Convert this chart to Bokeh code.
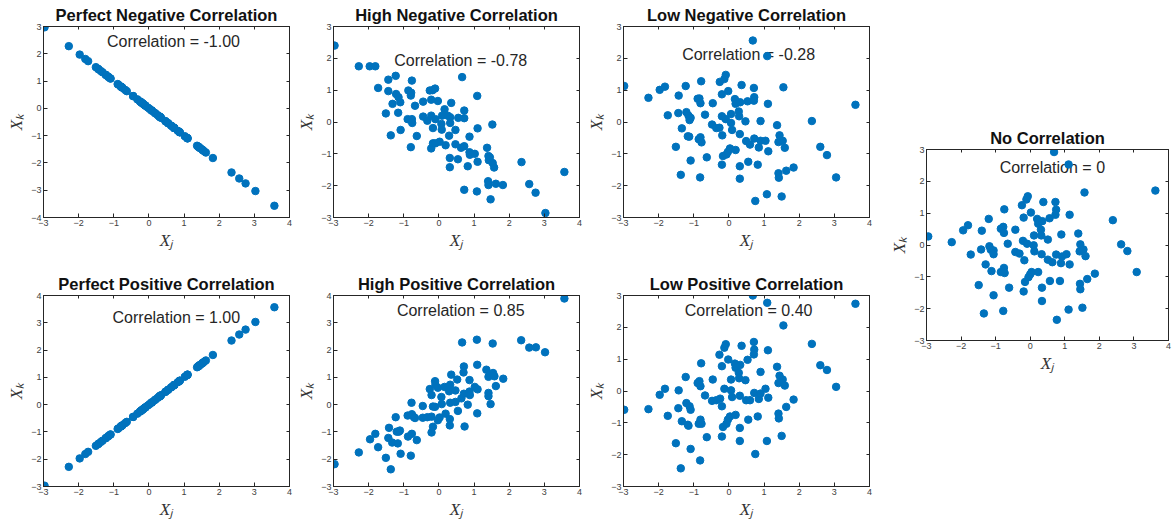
from bokeh.plotting import figure
from bokeh.layouts import row, column, Spacer
from bokeh.models import Label, LinearAxis, Range1d, FixedTicker
from bokeh.embed import file_html
from bokeh.resources import INLINE

# ---------------- data ----------------
# shared X_j values (also used for the perfect-correlation panels)
xj = [-2.97, -2.28, -1.97, -1.81, -1.73, -1.44, -1.44, -1.23, -1.51, -1.37,
      -1.32, -1.22, -1.15, -1.16, -1.10, -1.09, -0.87, -0.77, -0.80, -0.79,
      -0.68, -0.89, -0.77, -0.76, -0.80, -0.63, -0.45, -0.45, -0.33, -0.26,
      -0.18, -0.11, -0.22, -0.22, -0.17, -0.22, -0.17, -0.10, -0.03, -0.10,
      0.02, 0.09, 0.07, 0.08, 0.16, 0.19, 0.25, 0.29, 0.32, 0.32,
      0.35, 0.31, 0.31, 0.47, 0.47, 0.54, 0.55, 0.63, 0.66, 0.72,
      0.72, 0.72, 0.72, 0.82, 0.87, 0.87, 0.88, 1.02, 1.08, 1.09,
      1.10, 1.10, 1.37, 1.41, 1.42, 1.45, 1.40, 1.41, 1.47, 1.52,
      1.53, 1.57, 1.62, 1.82, 2.35, 2.57, 2.75, 3.03, 3.57]

perfect_neg_y = [2.97, 2.28, 1.97, 1.81, 1.73, 1.44, 1.44, 1.23, 1.51, 1.37,
                 1.32, 1.22, 1.15, 1.16, 1.10, 1.09, 0.87, 0.77, 0.80, 0.79,
                 0.68, 0.89, 0.77, 0.76, 0.80, 0.63, 0.45, 0.45, 0.33, 0.26,
                 0.18, 0.11, 0.22, 0.22, 0.17, 0.22, 0.17, 0.10, 0.03, 0.10,
                 -0.02, -0.09, -0.07, -0.08, -0.16, -0.19, -0.25, -0.29, -0.32, -0.32,
                 -0.35, -0.31, -0.31, -0.47, -0.47, -0.54, -0.55, -0.63, -0.66, -0.72,
                 -0.72, -0.72, -0.72, -0.82, -0.87, -0.87, -0.88, -1.02, -1.08, -1.09,
                 -1.10, -1.10, -1.37, -1.41, -1.42, -1.45, -1.40, -1.41, -1.47, -1.52,
                 -1.53, -1.57, -1.62, -1.82, -2.35, -2.57, -2.75, -3.03, -3.57]

perfect_pos_y = [-2.97, -2.28, -1.97, -1.81, -1.73, -1.44, -1.44, -1.23, -1.51, -1.37,
                 -1.32, -1.22, -1.15, -1.16, -1.10, -1.09, -0.87, -0.77, -0.80, -0.79,
                 -0.68, -0.89, -0.77, -0.76, -0.80, -0.63, -0.45, -0.45, -0.33, -0.26,
                 -0.18, -0.11, -0.22, -0.22, -0.17, -0.22, -0.17, -0.10, -0.03, -0.10,
                 0.02, 0.09, 0.07, 0.08, 0.16, 0.19, 0.25, 0.29, 0.32, 0.32,
                 0.35, 0.31, 0.31, 0.47, 0.47, 0.54, 0.55, 0.63, 0.66, 0.72,
                 0.72, 0.72, 0.72, 0.82, 0.87, 0.87, 0.88, 1.02, 1.08, 1.09,
                 1.10, 1.10, 1.37, 1.41, 1.42, 1.45, 1.40, 1.41, 1.47, 1.52,
                 1.53, 1.57, 1.62, 1.82, 2.35, 2.57, 2.75, 3.03, 3.57]

high_neg_y = [2.40, 1.75, 1.75, 1.75, 1.07, 1.33, 0.97, 1.45, 0.27, -0.42,
              0.57, 0.88, 0.78, 0.29, 0.62, -0.25, 0.99, 1.30, 0.83, 0.92,
              0.51, 0.09, 0.09, -0.03, -0.79, -0.44, 0.64, 0.17, 0.04, 0.99,
              1.00, 1.05, 0.70, 0.20, -0.19, -0.83, -0.67, 0.09, 0.66, -0.67,
              -0.62, 0.20, -0.06, -0.24, 0.40, -0.73, 0.20, -0.43, -0.03, 0.15,
              0.60, -1.13, -1.42, -0.25, -0.70, -1.17, 0.13, -0.81, 1.41, 0.36,
              0.12, -0.76, -2.13, -1.39, -0.46, -0.95, -1.03, -1.00, -2.18, 0.82,
              -0.20, -1.25, -0.81, -1.07, -1.20, -1.11, -1.86, -1.98, -2.43, -0.08,
              -1.29, -1.43, -1.94, -1.98, -1.26, -1.95, -2.22, -2.86, -1.57]

low_neg_x = [-2.98, -2.29, -1.97, -1.82, -1.74, -1.51, -1.43, -1.44, -1.34, -1.37,
             -1.23, -1.21, -1.15, -1.12, -1.09, -1.17, -1.13, -1.09, -0.89, -0.84,
             -0.79, -0.81, -0.86, -0.81, -0.78, -0.82, -0.68, -0.63, -0.46, -0.48,
             -0.36, -0.27, -0.26, -0.20, -0.20, -0.19, -0.20, -0.17, -0.13, -0.09,
             -0.09, -0.07, -0.02, -0.03, 0.03, 0.06, 0.06, 0.09, 0.17, 0.19,
             0.19, 0.28, 0.29, 0.31, 0.31, 0.31, 0.36, 0.32, 0.47, 0.49,
             0.53, 0.55, 0.60, 0.68, 0.71, 0.72, 0.71, 0.72, 0.75, 0.82,
             0.85, 0.90, 0.90, 1.04, 1.09, 1.11, 1.12, 1.08, 1.37, 1.44,
             1.41, 1.41, 1.42, 1.50, 1.53, 1.55, 1.59, 1.63, 1.84, 2.36,
             2.60, 2.79, 3.05, 3.60]
low_neg_y = [1.13, 0.76, 1.01, 1.11, 0.21, -0.78, 0.83, 0.28, -0.20, -1.66,
             1.13, 0.31, 0.20, 0.06, 0.13, -0.45, -0.46, -1.21, 0.73, 0.74,
             1.28, 0.59, -0.54, -0.48, -0.64, -1.74, 0.23, -1.11, 0.59, -0.08,
             -0.19, -0.18, 1.26, 0.87, 0.18, -0.42, -1.34, -1.07, 1.35, 1.48,
             0.09, -1.02, 0.97, -0.94, -0.83, 0.25, -0.03, -0.25, 0.72, 0.57,
             -0.88, 0.33, 0.18, -0.38, -1.39, -1.78, 1.16, 0.62, 0.02, -0.60,
             0.65, -1.25, -0.71, 2.56, 1.07, 0.78, 0.67, -0.52, -2.48, -1.34,
             -0.80, 0.03, -0.59, -0.59, 2.07, 0.57, -0.92, -2.27, -0.10, -0.42,
             -0.63, -1.61, -1.75, -2.34, -0.59, 1.09, -0.81, -1.53, -1.43, 0.03,
             -0.78, -1.04, -1.74, 0.54]

high_pos_x = [-2.97, -2.28, -1.96, -1.81, -1.73, -1.51, -1.42, -1.44, -1.37, -1.33,
              -1.23, -1.20, -1.17, -1.14, -1.11, -1.09, -0.89, -0.88, -0.80, -0.78,
              -0.77, -0.77, -0.71, -0.63, -0.68, -0.46, -0.46, -0.33, -0.26, -0.21,
              -0.21, -0.21, -0.17, -0.17, -0.11, -0.11, -0.10, -0.03, -0.03, 0.02,
              0.07, 0.08, 0.16, 0.19, 0.25, 0.29, 0.32, 0.31, 0.31, 0.35,
              0.32, 0.47, 0.47, 0.54, 0.52, 0.64, 0.66, 0.71, 0.70, 0.71,
              0.73, 0.82, 0.87, 0.87, 0.88, 1.02, 1.08, 1.09, 1.09, 1.10,
              1.35, 1.41, 1.41, 1.41, 1.46, 1.47, 1.53, 1.54, 1.58, 1.62,
              1.83, 2.34, 2.57, 2.76, 3.02, 3.57]
high_pos_y = [-2.18, -1.75, -1.27, -1.07, -1.56, -1.95, -0.85, -1.22, -2.37, -1.39,
              -0.46, -0.99, -1.42, -0.99, -0.95, -1.80, -0.40, -1.17, -1.87, 0.07,
              -0.35, -1.07, -0.46, -1.30, -0.49, -0.05, -0.48, -0.46, 0.57, 0.35,
              -0.44, -1.02, -0.07, -0.81, 0.86, -0.08, 0.73, 0.62, -0.57, -0.47,
              0.28, 0.02, 0.65, -0.33, 0.63, 0.49, 0.07, -0.76, -0.53, 1.10,
              0.73, 0.52, 0.10, -0.23, 0.92, 0.23, 2.28, 1.40, 1.18, 0.40,
              -0.80, 0.00, 0.90, 0.48, 0.35, 0.65, 2.38, 1.46, -0.32, 0.56,
              1.28, 1.02, 0.43, 0.31, 1.10, 0.02, 2.24, 1.16, 1.04, 0.68,
              0.95, 2.36, 2.09, 2.10, 1.92, 3.89]

low_pos_x = [-2.98, -2.29, -1.97, -1.82, -1.74, -1.51, -1.43, -1.44, -1.34, -1.37,
             -1.23, -1.21, -1.15, -1.12, -1.09, -1.17, -1.09, -0.89, -0.84, -0.79,
             -0.81, -0.86, -0.81, -0.78, -0.82, -0.68, -0.63, -0.46, -0.48, -0.36,
             -0.27, -0.20, -0.25, -0.20, -0.20, -0.17, -0.13, -0.09, -0.13, -0.07,
             -0.02, -0.03, 0.03, 0.06, 0.06, 0.09, 0.17, 0.19, 0.19, 0.28,
             0.29, 0.31, 0.31, 0.31, 0.36, 0.32, 0.47, 0.49, 0.53, 0.55,
             0.60, 0.68, 0.71, 0.72, 0.71, 0.72, 0.75, 0.82, 0.85, 0.90,
             0.90, 1.04, 1.09, 1.11, 1.12, 1.08, 1.37, 1.44, 1.41, 1.41,
             1.42, 1.50, 1.53, 1.55, 1.59, 1.63, 1.84, 2.36, 2.60, 2.79,
             3.05, 3.60]
low_pos_y = [-0.59, -0.57, -0.12, 0.07, -0.78, -1.64, 0.02, -0.54, -0.95, -2.43,
             0.44, -0.38, -1.09, -0.48, -0.59, -1.06, -1.82, 0.25, 0.31, 0.87,
             0.15, -1.03, -0.90, -1.03, -2.18, -0.14, -1.45, 0.36, -0.31, -0.29,
             1.14, 0.78, -0.24, -0.48, -1.43, -1.13, 1.36, 1.47, 0.07, -1.03,
             0.99, -0.90, -0.80, 0.36, 0.02, -0.19, 0.86, 0.73, -0.75, 0.57,
             0.40, -0.15, -1.16, -1.57, 1.42, 0.82, 0.34, -0.29, 0.98, -0.90,
             -0.29, 3.00, 1.54, 1.30, 1.15, -0.06, -1.98, -0.80, -0.25, 0.60,
             -0.08, 0.07, 2.77, 1.28, -0.21, -1.57, 0.76, 0.48, 0.25, -0.71,
             -0.86, -1.41, 0.36, 2.06, 0.17, -0.50, -0.27, 1.48, 0.81, 0.66,
             0.13, 2.74]

no_corr_x = [-2.95, -2.27, -1.94, -1.80, -1.72, -1.49, -1.40, -1.42, -1.29, -1.34,
             -1.20, -1.18, -1.14, -1.12, -1.06, -1.06, -1.06, -0.85, -0.78, -0.75,
             -0.76, -0.85, -0.76, -0.74, -0.78, -0.65, -0.61, -0.43, -0.43, -0.31,
             -0.24, -0.19, -0.21, -0.17, -0.19, -0.15, -0.11, -0.07, -0.09, -0.05,
             0.02, 0.00, 0.04, 0.11, 0.10, 0.12, 0.20, 0.23, 0.23, 0.31,
             0.32, 0.33, 0.34, 0.34, 0.38, 0.35, 0.51, 0.51, 0.56, 0.57,
             0.64, 0.69, 0.73, 0.75, 0.73, 0.75, 0.77, 0.86, 0.89, 0.90,
             0.92, 1.05, 1.11, 1.14, 1.14, 1.11, 1.39, 1.45, 1.43, 1.44,
             1.45, 1.51, 1.54, 1.57, 1.60, 1.65, 1.87, 2.39, 2.63, 2.81,
             3.08, 3.62]
no_corr_y = [0.27, 0.09, 0.46, 0.62, -0.30, -1.26, 0.45, -0.14, -0.61, -2.15,
             0.82, -0.04, -0.15, -0.82, -0.17, -0.29, -1.58, 0.51, 0.57, 1.12,
             0.38, -0.85, -0.72, -0.88, -2.07, 0.04, -1.34, 0.48, -0.22, -0.27,
             1.25, 0.86, 0.13, -0.48, -1.46, -1.16, 1.43, 1.53, 0.04, -1.01,
             1.02, -0.92, -0.85, 0.30, -0.01, -0.20, 0.82, 0.67, -0.85, 0.48,
             0.30, -0.29, -1.34, -1.76, 1.35, 0.75, 0.17, -0.46, 0.84, -1.13,
             -0.54, 2.92, 1.35, 1.11, 0.95, -0.30, -2.35, -1.13, -0.57, 0.33,
             -0.36, -0.29, 2.53, 0.95, -0.61, -2.03, 0.36, 0.02, -0.20, -1.22,
             -1.39, -1.97, -0.14, 1.65, -0.35, -1.07, -0.90, 0.78, 0.02, -0.19,
             -0.85, 1.71]

x_ticks = [-3, -2, -1, 0, 1, 2, 3, 4]

# ---------------- styling ----------------
DOT = "#0072BD"
AX = "#262626"
TICK_LBL = "#404040"
SANS = "Liberation Sans"
SERIF = "Liberation Serif"


def panel(title, xs, ys, ylo, yhi, corr, tx, ty, fw=246, bottom=52, left=36):
    p = figure(frame_width=fw, frame_height=191,
               x_range=Range1d(-3, 4), y_range=Range1d(ylo, yhi),
               output_backend="svg", toolbar_location=None,
               min_border_left=left, min_border_right=5,
               min_border_top=26, min_border_bottom=bottom,
               background_fill_color="white", border_fill_color="white",
               outline_line_color=AX, outline_line_width=1)
    p.title.text = title
    p.title.align = "center"
    p.title.text_font = SANS
    p.title.text_font_style = "bold"
    p.title.text_font_size = "16.5px"
    p.title.text_color = "#111111"
    p.title.standoff = 5
    p.xgrid.visible = False
    p.ygrid.visible = False
    y_ticks = list(range(ylo, yhi + 1))

    for ax in p.xaxis:
        ax.ticker = FixedTicker(ticks=x_ticks)
        ax.axis_label = "X\u2c7c"
    for ax in p.yaxis:
        ax.ticker = FixedTicker(ticks=y_ticks)
        ax.axis_label = "X\u2096"
    for ax in list(p.xaxis) + list(p.yaxis):
        ax.major_tick_in = 4
        ax.major_tick_out = 0
        ax.minor_tick_in = 0
        ax.minor_tick_out = 0
        ax.axis_line_color = AX
        ax.major_tick_line_color = AX
        ax.major_label_text_font = SANS
        ax.major_label_text_font_size = "9px"
        ax.major_label_text_color = TICK_LBL
        ax.major_label_standoff = 2
        ax.axis_label_text_font = SERIF
        ax.axis_label_text_font_style = "italic"
        ax.axis_label_text_font_size = "17px"
        ax.axis_label_text_color = "#333333"
        ax.axis_label_standoff = 2

    # box ticks on top and right (no labels)
    for side, tk in (("right", y_ticks), ("above", x_ticks)):
        a = LinearAxis(ticker=FixedTicker(ticks=tk), major_tick_in=3, major_tick_out=0,
                       minor_tick_in=0, minor_tick_out=0,
                       major_label_text_font_size="0px", major_label_text_color=None,
                       major_label_standoff=0,
                       axis_line_color=AX, major_tick_line_color=AX)
        p.add_layout(a, side)

    p.add_layout(Label(x=tx, y=ty, text=corr, text_align="center",
                       text_baseline="middle", text_font=SANS,
                       text_font_size="16px", text_color="#262626",
                       level="underlay"))
    p.scatter(xs, ys, size=7.5, color=DOT, line_color=DOT)
    return p


p1 = panel("Perfect Negative Correlation", xj, perfect_neg_y, -4, 3,
           "Correlation = -1.00", 0.7, 2.45, left=43)
p2 = panel("High Negative Correlation", xj, high_neg_y, -3, 3,
           "Correlation = -0.78", 0.62, 1.93)
p3 = panel("Low Negative Correlation", low_neg_x, low_neg_y, -3, 3,
           "Correlation = -0.28", 0.56, 2.12)
p4 = panel("Perfect Positive Correlation", xj, perfect_pos_y, -3, 4,
           "Correlation = 1.00", 0.78, 3.2, bottom=34, left=43)
p5 = panel("High Positive Correlation", high_pos_x, high_pos_y, -3, 4,
           "Correlation = 0.85", 0.62, 3.45, bottom=34)
p6 = panel("Low Positive Correlation", low_pos_x, low_pos_y, -3, 3,
           "Correlation = 0.40", 0.56, 2.53, bottom=34)
p7 = panel("No Correlation", no_corr_x, no_corr_y, -3, 3,
           "Correlation = 0", 0.64, 2.43, fw=242, bottom=40)

left = column(row(p1, p2, p3), row(p4, p5, p6))
right = column(Spacer(width=10, height=123), p7)
layout = row(left, Spacer(width=13, height=10), right)

open("out.html", "w").write(file_html(layout, INLINE))
